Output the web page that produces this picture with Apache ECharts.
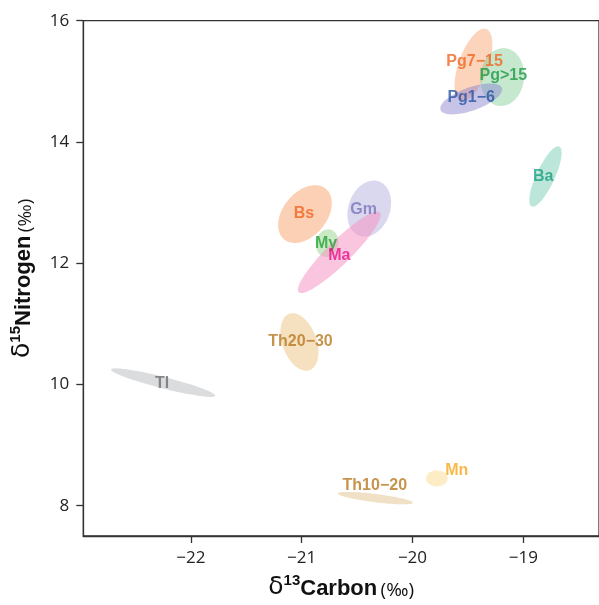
<!DOCTYPE html>
<html><head><meta charset="utf-8">
<script src="https://cdn.jsdelivr.net/npm/echarts@6/dist/echarts.min.js"></script>
<style>html,body{margin:0;padding:0;background:#fff}#c{width:599px;height:605px}</style>
</head><body><div id="c"></div>
<script>
// Group names
var groups = ['Pg7−15','Pg>15','Pg1−6','Ba','Bs','Gm','My','Ma','Th20−30','Tl','Mn','Th10−20'];
// Ellipse centres (δ13C, δ15N)
var centerC = [-19.45,-19.19,-19.47,-18.80,-20.97,-20.39,-20.77,-20.66,-21.02,-22.25,-19.78,-20.335];
var centerN = [15.27,15.07,14.71,13.43,12.81,12.90,12.33,12.18,10.70,10.03,8.45,8.125];
// Conjugate semi-axis vectors (in ‰)
var axis1C = [0.116,0.027,0.277,0.125,0.189,0.089,0.027,0.366,-0.092,0.469,0.098,0.340];
var axis1N = [0.592,0.477,0.181,0.493,0.416,0.448,0.225,0.658,0.464,-0.217,0.000,-0.077];
var axis2C = [0.125,0.196,0.035,0.075,0.151,0.176,0.098,0.074,0.145,-0.012,0.000,-0.004];
var axis2N = [-0.083,-0.037,-0.180,-0.064,-0.232,-0.118,-0.039,-0.140,0.097,-0.092,0.132,-0.068];
// Label positions
var labelC = [-19.44,-19.18,-19.47,-18.82,-20.98,-20.44,-20.78,-20.66,-21.01,-22.26,-19.60,-20.34];
var labelN = [15.32,15.09,14.73,13.43,12.81,12.89,12.33,12.13,10.70,10.01,8.58,8.33];
// Tick values
var xTicks = [-22,-21,-20,-19];
var yTicks = [8,10,12,14,16];

var fillColors = ['rgba(247,160,105,0.45)','rgba(120,200,140,0.42)','rgba(130,125,205,0.45)','rgba(120,205,180,0.5)',
  'rgba(248,170,120,0.55)','rgba(170,168,218,0.45)','rgba(160,215,150,0.55)','rgba(245,150,195,0.55)',
  'rgba(238,205,150,0.6)','rgba(200,202,205,0.65)','rgba(252,225,160,0.6)','rgba(230,205,160,0.6)'];
var textColors = ['#f26522','#1f9a45','#2b55a5','#19a07f','#f26522','#7a76bd','#26a33b','#e8138a','#b8791f','#6d6e70','#f7a81b','#b8791f'];

var ellData = groups.map(function(g,i){
  return {name:g, value:[centerC[i],centerN[i],axis1C[i],axis1N[i],axis2C[i],axis2N[i],i]};
});
var labData = groups.map(function(g,i){
  return {name:g, value:[labelC[i],labelN[i]], label:{color:textColors[i]}};
});

function minusFmt(v){ return String(v).replace('-','−'); }

var titleRich = {
  d:{fontSize:25, fontFamily:'DejaVu Sans', color:'#111', verticalAlign:'bottom'},
  s:{fontSize:15, fontWeight:'bold', fontFamily:'Liberation Sans', color:'#111', verticalAlign:'top', padding:[0,0,12,0]},
  b:{fontSize:22, fontWeight:'bold', fontFamily:'Liberation Sans', color:'#111', verticalAlign:'bottom'},
  p:{fontSize:19, fontFamily:'Open Sans', color:'#111', verticalAlign:'bottom'}
};

var chart = echarts.init(document.getElementById('c'), null, {renderer:'canvas'});
chart.setOption({
  animation:false,
  grid:{left:83.3, right:-5, top:20.7, bottom:67.7, show:true, borderColor:'#333', borderWidth:1.3, backgroundColor:'transparent'},
  xAxis:{type:'value', min:-22.97, max:-18.317,
    axisLine:{show:true, onZero:false, lineStyle:{color:'#333', width:1.3}},
    axisTick:{show:true, length:7, customValues:xTicks, lineStyle:{color:'#333', width:1.3}},
    axisLabel:{customValues:xTicks, formatter:minusFmt, color:'#222', fontSize:17, fontFamily:'Open Sans', margin:14},
    splitLine:{show:false},
    name:'{d|δ}{s|13}{b|Carbon} {p|(‰)}', nameLocation:'middle', nameGap:37,
    nameTextStyle:{rich:titleRich}
  },
  yAxis:{type:'value', min:7.5, max:16,
    axisLine:{show:true, onZero:false, lineStyle:{color:'#333', width:1.3}},
    axisTick:{show:true, length:7, customValues:yTicks, lineStyle:{color:'#333', width:1.3}},
    axisLabel:{customValues:yTicks, color:'#222', fontSize:17, fontFamily:'Open Sans', margin:14},
    splitLine:{show:false},
    name:'{d|δ}{s|15}{b|Nitrogen} {p|(‰)}', nameLocation:'middle', nameGap:48, nameRotate:90,
    nameTextStyle:{rich:titleRich}
  },
  series:[
    {type:'custom', data:ellData, clip:true, z:2,
      renderItem:function(params, api){
        var cx=api.value(0), cy=api.value(1), ux=api.value(2), uy=api.value(3), vx=api.value(4), vy=api.value(5), k=api.value(6);
        var pts=[];
        for(var j=0;j<90;j++){
          var t=j/90*Math.PI*2, c=Math.cos(t), s=Math.sin(t);
          pts.push(api.coord([cx+ux*c+vx*s, cy+uy*c+vy*s]));
        }
        return {type:'polygon', shape:{points:pts}, style:{fill:fillColors[k], stroke:null}};
      }
    },
    {type:'scatter', data:labData, symbolSize:0, z:5,
      label:{show:true, position:'inside', formatter:'{b}', fontSize:16, fontWeight:'bold', fontFamily:'Liberation Sans'}
    }
  ]
});
</script></body></html>
